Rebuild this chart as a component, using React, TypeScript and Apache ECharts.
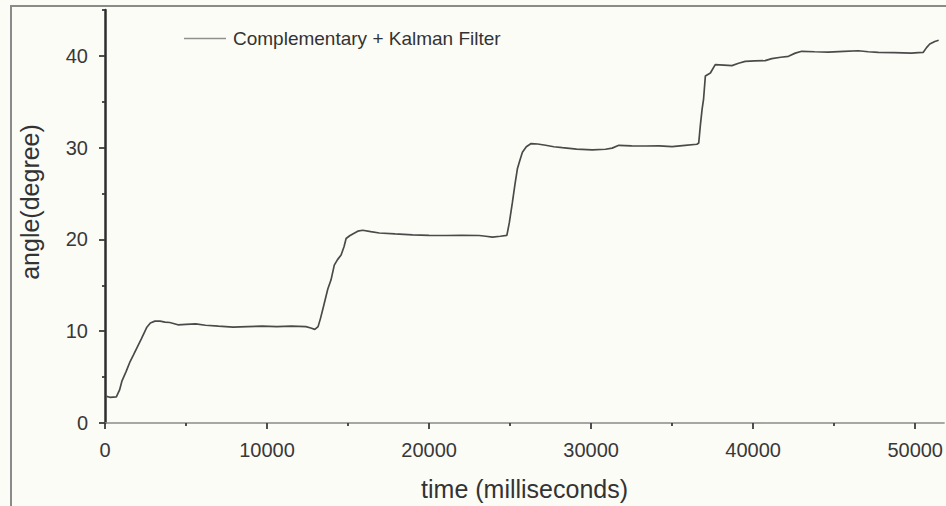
import React, { useEffect, useRef } from 'react';
import * as echarts from 'echarts';

const timeMs = [
  100, 300, 700, 900, 1050, 1300, 1550, 1750, 2000, 2250, 2570, 2800, 3080, 3400, 3700, 4000,
  4500, 5000, 5600, 6200, 7000, 7900, 8800, 9700, 10600, 11500, 12400, 12700, 12950, 13150,
  13300, 13500, 13750, 13950, 14150, 14350, 14570, 14750, 14880, 15100, 15290, 15600, 15900,
  16400, 16930, 17900, 18980, 20000, 21040, 22000, 23090, 23500, 23910, 24400, 24800, 24950,
  25140, 25300, 25450, 25600, 25760, 26000, 26300, 26700, 27190, 27700, 28220, 29100, 30070,
  30890, 31300, 31710, 32500, 33360, 34200, 35000, 35800, 36530, 36640, 36740, 36850, 36940,
  37050, 37360, 37660, 38200, 38690, 39100, 39510, 40100, 40740, 41150, 41700, 42180, 42600,
  43000, 43800, 44640, 45600, 46490, 47100, 47720, 48700, 49770, 50200, 50490, 50700, 50900,
  51210, 51450,
];
const angleDeg = [
  2.9, 2.8, 2.85, 3.6, 4.6, 5.6, 6.7, 7.4, 8.3, 9.2, 10.4, 10.9, 11.1, 11.1, 11.0, 10.95,
  10.7, 10.75, 10.8, 10.65, 10.55, 10.45, 10.5, 10.55, 10.5, 10.55, 10.5, 10.35, 10.2, 10.5,
  11.4, 12.8, 14.6, 15.6, 17.2, 17.8, 18.3, 19.2, 20.1, 20.4, 20.6, 20.9, 21.0,
  20.85, 20.7, 20.6, 20.5, 20.45, 20.43, 20.45, 20.43, 20.35, 20.25, 20.35, 20.45, 21.8,
  24.0, 26.0, 27.7, 28.6, 29.5, 30.1, 30.45, 30.4, 30.26, 30.1, 30.0, 29.85, 29.76,
  29.83, 29.95, 30.26, 30.2, 30.18, 30.2, 30.11, 30.25, 30.37, 30.5, 32.4, 34.2, 35.3,
  37.8, 38.14, 39.05, 39.0, 38.94, 39.2, 39.4, 39.45, 39.48, 39.7, 39.85, 39.95, 40.3,
  40.5, 40.45, 40.4, 40.5, 40.56, 40.45, 40.38, 40.35, 40.3, 40.35, 40.38, 40.9, 41.29,
  41.57, 41.7,
];

const xMajorTicks = [0, 10000, 20000, 30000, 40000, 50000];
const xMinorTicks = [5000, 15000, 25000, 35000, 45000];
const yMajorTicks = [0, 10, 20, 30, 40];
const yMinorTicks = [5, 15, 25, 35, 45];
const X_MAX = 51786;
const Y_MAX = 45;
const seriesName = 'Complementary + Kalman Filter';
const xTitle = 'time (milliseconds)';
const yTitle = 'angle(degree)';

export default function App() {
  const ref = useRef<HTMLDivElement>(null);
  useEffect(() => {
    if (!ref.current) return;
    const chart = echarts.init(ref.current, null, { renderer: 'svg' });
    const font = '"Liberation Sans", Arial, sans-serif';
    const tickStyle = { color: '#3c3c3c', width: 1.8 };
    const plain = (v: number) => String(v);
    chart.setOption({
      animation: false,
      backgroundColor: '#fcfcf7',
      textStyle: { fontFamily: font },
      grid: { left: 105, right: 0, top: 10, bottom: 81, containLabel: false },
      legend: {
        show: true,
        left: 179,
        top: 24,
        icon: 'rect',
        itemWidth: 42,
        itemHeight: 1.5,
        itemStyle: { color: '#8f8f8f' },
        textStyle: { fontSize: 19, color: '#333', fontFamily: font, padding: [0, 0, 0, 2] },
        data: [seriesName],
      },
      xAxis: [
        {
          type: 'value',
          min: 0,
          max: X_MAX,
          position: 'bottom',
          axisLine: { show: true, onZero: false, lineStyle: { color: '#8a8a8a', width: 1.5 } },
          splitLine: { show: false },
          axisTick: { show: true, customValues: xMajorTicks, length: 6, lineStyle: tickStyle },
          axisLabel: { customValues: xMajorTicks, formatter: plain, fontSize: 20, color: '#383838', margin: 17 },
          name: xTitle,
          nameLocation: 'middle',
          nameGap: 53,
          nameTextStyle: { fontSize: 25, color: '#333' },
        },
        {
          type: 'value',
          min: 0,
          max: X_MAX,
          position: 'bottom',
          axisLine: { show: false, onZero: false },
          splitLine: { show: false },
          axisTick: { show: true, customValues: xMinorTicks, length: 3, lineStyle: tickStyle },
          axisLabel: { show: false },
        },
      ],
      yAxis: [
        {
          type: 'value',
          min: 0,
          max: Y_MAX,
          position: 'left',
          axisLine: { show: true, onZero: false, lineStyle: { color: '#2e2e2e', width: 2.5 } },
          splitLine: { show: false },
          axisTick: { show: true, customValues: yMajorTicks, length: 6, lineStyle: tickStyle },
          axisLabel: { customValues: yMajorTicks, formatter: plain, fontSize: 20, color: '#383838', margin: 17 },
        },
        {
          type: 'value',
          min: 0,
          max: Y_MAX,
          position: 'left',
          axisLine: { show: false, onZero: false },
          splitLine: { show: false },
          axisTick: { show: true, customValues: yMinorTicks, length: 3, lineStyle: tickStyle },
          axisLabel: { show: false },
        },
      ],
      graphic: [
        {
          type: 'rect',
          silent: true,
          z: -10,
          shape: { x: 11, y: 6, width: 1400, height: 1400 },
          style: { fill: 'none', stroke: '#8a8a8a', lineWidth: 2 },
        },
        {
          type: 'text',
          silent: true,
          x: 30,
          y: 202,
          rotation: Math.PI / 2,
          style: {
            text: yTitle,
            fontSize: 25,
            fontFamily: font,
            fill: '#333',
            align: 'center',
            verticalAlign: 'middle',
          },
        },
      ],
      series: [
        {
          type: 'line',
          name: seriesName,
          xAxisIndex: 0,
          yAxisIndex: 0,
          data: timeMs.map((t, i) => [t, angleDeg[i]]),
          showSymbol: false,
          symbol: 'none',
          lineStyle: { color: '#4a4a4a', width: 1.7 },
          itemStyle: { color: '#8f8f8f' },
        },
      ],
    });
    return () => chart.dispose();
  }, []);
  return <div ref={ref} style={{ position: 'fixed', left: 0, top: 0, width: 946, height: 506 }} />;
}
